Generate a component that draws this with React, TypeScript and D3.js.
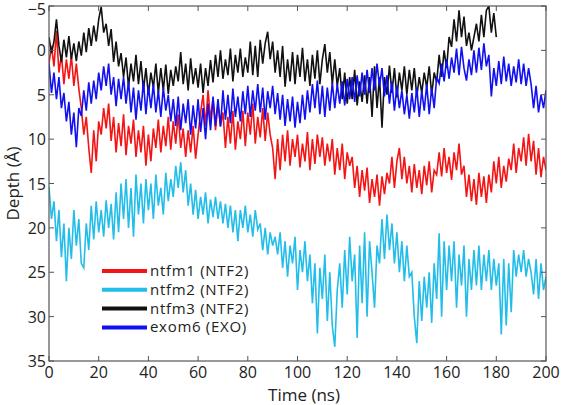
import React from "react";
import * as d3 from "d3";

// Time axis: one value per ns
const ntfm1: number[] = [
  1.5, -0.5, 1.8, -2.2, 2.5, 0.5, 3.8, 1.0, 3.2, 0.6, 4.0, 1.5, 4.3, 6.5, 9.5, 7.5, 11.0, 13.8, 9.0, 12.5,
  8.0, 9.5, 6.5, 8.8, 6.0, 10.2, 7.5, 11.5, 8.2, 10.8, 7.2, 11.8, 8.5, 10.5, 7.8, 12.0, 9.0, 11.5, 8.5, 13.0,
  9.5, 12.5, 8.8, 11.0, 7.8, 11.5, 8.5, 10.8, 7.5, 11.2, 8.0, 10.5, 7.2, 11.0, 8.8, 12.0, 9.0, 11.5, 8.5, 12.2,
  9.5, 7.0, 5.0, 8.5, 4.5, 7.8, 5.5, 9.0, 6.0, 8.5, 7.0, 11.0, 7.5, 10.5, 6.8, 11.2, 8.0, 10.0, 6.8, 10.8,
  7.0, 9.5, 6.0, 10.5, 7.5, 9.8, 6.5, 10.2, 7.0, 9.5, 11.0, 14.5, 10.0, 13.5, 9.5, 12.5, 9.0, 13.0, 10.0, 12.0,
  9.5, 13.2, 10.5, 12.5, 9.2, 13.5, 10.0, 12.8, 9.5, 12.0, 9.8, 13.0, 10.5, 12.5, 10.0, 14.0, 11.0, 13.5, 10.5, 14.5,
  11.5, 13.0, 12.0, 15.5, 13.0, 16.5, 13.5, 15.8, 13.2, 17.2, 14.5, 16.5, 14.0, 17.5, 14.2, 16.2, 13.8, 15.0, 12.0, 15.5,
  12.5, 11.0, 14.5, 12.0, 15.0, 13.0, 16.0, 12.8, 15.5, 13.5, 16.2, 13.0, 15.2, 12.5, 16.0, 13.5, 14.0, 11.5, 14.2, 11.0,
  13.8, 12.0, 14.6, 11.5, 13.5, 10.5, 14.0, 13.0, 16.5, 14.0, 17.0, 14.5, 17.4, 13.8, 16.5, 14.2, 17.2, 14.0, 16.0, 12.5,
  15.0, 12.0, 15.5, 13.0, 14.8, 12.2, 13.5, 10.5, 13.8, 11.0, 12.5, 9.8, 13.0, 9.4, 12.5, 10.2, 14.0, 11.0, 14.3, 12.0,
  13.5,
];

const ntfm2: number[] = [
  15.4, 19.0, 17.0, 21.5, 18.0, 23.3, 19.5, 26.0, 20.0, 23.5, 18.0, 22.0, 19.0, 24.0, 24.5, 19.5, 22.5, 17.5, 21.3, 17.0,
  20.5, 18.0, 21.0, 16.9, 20.0, 17.3, 21.3, 16.0, 20.5, 15.0, 19.0, 14.5, 20.0, 15.5, 21.0, 14.0, 18.5, 15.0, 19.5, 14.5,
  18.0, 15.0, 19.0, 14.0, 17.5, 15.5, 18.5, 13.8, 17.0, 14.5, 16.5, 13.0, 15.5, 12.6, 16.0, 13.5, 17.5, 15.0, 18.5, 15.7,
  19.0, 16.5, 18.5, 16.0, 19.5, 16.8, 18.8, 16.5, 19.0, 17.0, 19.5, 17.3, 20.0, 17.5, 20.5, 18.0, 21.5, 18.0, 20.0, 17.5,
  20.5, 18.5, 21.0, 18.0, 20.2, 19.5, 22.5, 20.0, 23.0, 20.5, 22.0, 21.0, 23.0, 20.5, 24.5, 21.5, 25.5, 22.0, 24.0, 21.0,
  27.0, 22.5, 25.0, 21.5, 26.0, 23.0, 28.5, 24.0, 31.9, 24.5, 28.0, 23.0, 30.5, 25.0, 31.0, 33.4, 27.0, 24.0, 29.0, 22.5,
  27.5, 21.0, 26.0, 23.0, 32.4, 22.0, 28.5, 20.5, 30.0, 21.5, 25.0, 29.0, 22.0, 24.0, 19.0, 23.5, 18.5, 22.5, 19.5, 24.0,
  20.5, 25.0, 21.5, 26.0, 22.0, 25.5, 25.0, 30.0, 33.0, 26.0, 30.5, 25.5, 29.0, 25.0, 30.7, 24.0, 28.0, 20.6, 30.0, 21.5,
  27.0, 22.0, 26.0, 21.5, 29.0, 23.0, 26.5, 22.0, 30.0, 23.5, 27.0, 22.5, 26.5, 22.0, 27.0, 23.0, 26.0, 22.5, 27.0, 23.5,
  26.5, 24.0, 32.0, 23.5, 31.0, 24.0, 29.5, 22.5, 25.5, 23.0, 25.0, 22.5, 25.5, 23.5, 25.0, 27.5, 23.5, 28.0, 24.0, 27.0,
  25.5,
];

const ntfm3: number[] = [
  -1.5, 0.3, -1.0, -3.5, -0.5, 1.3, -1.2, 0.8, -1.6, 1.0, -0.8, 1.2, -1.0, 0.6, -2.0, 0.2, -2.5, -0.5, -2.8, -1.0,
  -3.5, -4.9, -2.0, -3.0, -0.5, -2.4, 1.3, -1.0, 1.8, 0.3, 3.0, 0.8, 4.1, 1.5, 3.5, 0.5, 3.8, 1.2, 4.5, 2.0,
  5.0, 2.5, 4.2, 1.5, 4.8, 2.0, 4.5, 1.6, 4.9, 2.2, 4.0, 1.8, 3.5, 0.2, 3.8, 1.5, 4.5, 0.9, 3.8, 2.0,
  4.2, 1.5, 4.8, 2.0, 4.0, 1.1, 3.6, 0.5, 3.0, 0.0, 3.2, 1.0, 2.8, -0.2, 3.5, 0.5, 2.5, -0.2, 3.0, 0.8,
  2.5, -1.0, 2.8, -0.5, 3.0, -1.2, 1.5, -0.8, -2.1, 1.0, -1.0, 2.5, 0.0, 3.0, -0.5, 4.1, 1.0, 3.5, 0.2, 3.8,
  0.5, 3.0, -0.3, 3.5, 1.0, 4.0, 0.5, 3.2, 0.0, 3.8, 1.0, -0.7, 2.5, 0.2, 3.8, 1.0, 4.0, 2.0, 5.5, 2.5,
  6.0, 3.0, 5.5, 2.2, 6.2, 3.5, 5.8, 2.8, 6.0, 3.0, 7.5, 1.8, 6.5, 3.0, 8.7, 3.0, 5.0, 1.7, 4.8, 2.0,
  5.3, 2.5, 4.5, 1.8, 5.0, 2.2, 4.5, 2.0, 5.2, 3.0, 4.8, 2.5, 4.2, 1.8, 5.0, 2.5, 3.6, 0.5, 3.0, 0.0,
  2.0, -1.5, -0.4, -3.5, -1.0, -4.5, -1.5, -3.8, -0.5, -2.0, 0.0, -1.5, -3.0, -1.0, -4.0, -1.5, -4.5, -5.0, -2.0, -4.2,
  -1.5,
];

const exom6: number[] = [
  1.5, 4.8, 2.5, 5.5, 3.0, 6.5, 4.8, 8.0, 5.8, 9.5, 7.0, 10.9, 6.5, 7.4, 4.5, 6.8, 3.6, 6.0, 3.4, 5.5,
  2.5, 4.5, 1.8, 4.0, 1.5, 5.0, 3.0, 6.3, 3.2, 5.5, 3.0, 6.0, 3.5, 7.0, 4.2, 7.8, 4.5, 6.8, 3.5, 7.2,
  4.0, 6.5, 3.8, 7.0, 4.5, 7.5, 4.2, 6.8, 5.0, 8.0, 5.5, 8.5, 5.2, 9.0, 6.0, 8.2, 5.5, 9.5, 6.2, 8.8,
  5.5, 9.2, 6.5, 10.0, 6.0, 9.0, 5.2, 8.5, 5.5, 8.6, 4.5, 7.8, 5.0, 8.2, 4.3, 7.5, 5.2, 8.0, 4.6, 7.2,
  4.0, 7.5, 4.5, 6.8, 3.8, 7.0, 4.2, 7.8, 4.6, 6.5, 4.0, 7.2, 4.8, 7.8, 5.0, 8.5, 5.5, 8.0, 5.2, 8.7,
  5.8, 8.2, 5.0, 7.8, 4.5, 7.0, 3.8, 6.5, 3.4, 7.2, 4.0, 7.5, 4.2, 6.8, 3.6, 6.5, 3.8, 6.0, 3.5, 6.2,
  3.2, 5.5, 3.0, 5.8, 2.8, 5.2, 2.5, 5.0, 2.2, 4.8, 2.0, 4.5, 1.5, 4.0, 2.0, 5.2, 2.8, 6.0, 3.5, 6.8,
  4.0, 6.5, 4.5, 7.2, 5.0, 7.7, 4.8, 7.0, 4.2, 7.5, 4.5, 6.8, 3.8, 7.2, 4.2, 6.5, 3.0, 3.7, 1.5, 3.5,
  1.0, 3.2, 0.8, 2.5, -0.2, 2.8, -0.4, 2.0, 3.4, 1.0, 2.8, 0.0, 2.5, -0.3, 2.2, -0.8, 1.8, 0.5, 5.2, 2.0,
  4.0, 1.2, 3.8, 0.7, 3.5, 1.5, 4.0, 1.8, 3.6, 1.0, 3.8, 1.5, 4.0, 2.0, 3.8, 6.5, 4.0, 7.0, 5.0, 6.5,
  4.5,
];

const seriesNames = ["ntfm1 (NTF2)", "ntfm2 (NTF2)", "ntfm3 (NTF2)", "exom6 (EXO)"];
const seriesColors = ["#f41414", "#22bde8", "#111111", "#1010f0"];
const seriesData = [ntfm1, ntfm2, ntfm3, exom6];

const xTicks = [0, 20, 40, 60, 80, 100, 120, 140, 160, 180, 200];
const yTicks = [-5, 0, 5, 10, 15, 20, 25, 30, 35];

const W = 562;
const H = 405;
const M = { left: 49, right: 16, top: 6, bottom: 44 };

export default function App() {
  const x = d3.scaleLinear().domain([0, 200]).range([M.left, W - M.right]);
  const y = d3.scaleLinear().domain([-5, 35]).range([M.top, H - M.bottom]);
  const line = d3
    .line<number>()
    .x((_, i) => x(i))
    .y((d) => y(d));
  const x0 = M.left;
  const x1 = W - M.right;
  const y0 = M.top;
  const y1 = H - M.bottom;
  const axisColor = "#555";
  const font = "'Open Sans', 'Noto Sans', sans-serif";
  const tickLen = 5;
  return (
    <svg width={W} height={H} style={{ position: "absolute", left: 0, top: 0, background: "#fff" }}>
      <defs>
        <clipPath id="plot">
          <rect x={x0} y={y0} width={x1 - x0} height={y1 - y0} />
        </clipPath>
      </defs>
      <g clipPath="url(#plot)">
        {seriesData.map((d, k) => (
          <path key={k} d={line(d) || ""} fill="none" stroke={seriesColors[k]} strokeWidth={1.6} strokeLinejoin="miter" />
        ))}
      </g>
      <rect x={x0} y={y0} width={x1 - x0} height={y1 - y0} fill="none" stroke={axisColor} strokeWidth={1.2} />
      {xTicks.map((t) => (
        <g key={"x" + t}>
          <line x1={x(t)} x2={x(t)} y1={y1} y2={y1 - tickLen} stroke={axisColor} />
          <line x1={x(t)} x2={x(t)} y1={y0} y2={y0 + tickLen} stroke={axisColor} />
          <text x={x(t)} y={y1 + 17} textAnchor="middle" fontFamily={font} fontSize={16} fill="#222">
            {t}
          </text>
        </g>
      ))}
      {yTicks.map((t) => (
        <g key={"y" + t}>
          <line x1={x0} x2={x0 + tickLen} y1={y(t)} y2={y(t)} stroke={axisColor} />
          <line x1={x1} x2={x1 - tickLen} y1={y(t)} y2={y(t)} stroke={axisColor} />
          <text x={x0 - 3} y={y(t) + (t === -5 ? 9 : 6)} textAnchor="end" fontFamily={font} fontSize={16} fill="#222">
            {t < 0 ? "\u2212" + Math.abs(t) : t}
          </text>
        </g>
      ))}
      <text x={304} y={401} textAnchor="middle" fontFamily={font} fontSize={17} fill="#222">
        Time (ns)
      </text>
      <text
        transform={`translate(19,${(y0 + y1) / 2}) rotate(-90)`}
        textAnchor="middle"
        fontFamily={font}
        fontSize={17}
        fill="#222"
      >
        Depth (Å)
      </text>
      {seriesNames.map((n, k) => (
        <g key={n}>
          <line x1={102} x2={147} y1={271 + k * 18.8} y2={271 + k * 18.8} stroke={seriesColors[k]} strokeWidth={4} />
          <text x={150} y={271 + k * 18.8 + 5} fontFamily={font} fontSize={15} letterSpacing={0.7} fill="#222">
            {n}
          </text>
        </g>
      ))}
    </svg>
  );
}
